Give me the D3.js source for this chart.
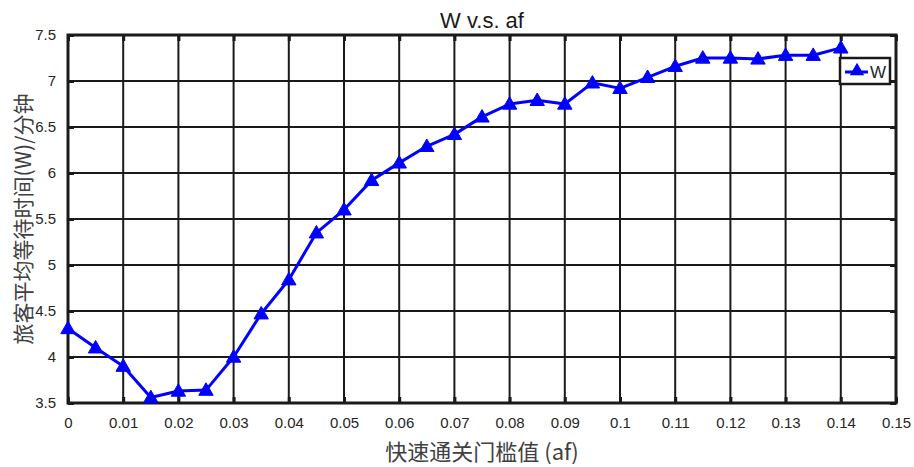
<!DOCTYPE html>
<html>
<head>
<meta charset="utf-8">
<script src="https://cdn.jsdelivr.net/npm/d3@7"></script>
<style>
  body { margin: 0; background: #fff; }
  svg { display: block; font-family: "Liberation Sans", Arial, sans-serif; }
</style>
</head>
<body>
<div id="chart"></div>
<script>
// data
var afValues = [0, 0.005, 0.01, 0.015, 0.02, 0.025, 0.03, 0.035, 0.04, 0.045, 0.05, 0.055, 0.06, 0.065, 0.07,
                0.075, 0.08, 0.085, 0.09, 0.095, 0.1, 0.105, 0.11, 0.115, 0.12, 0.125, 0.13, 0.135, 0.14];
var wValues = [4.31, 4.10, 3.90, 3.56, 3.63, 3.64, 4.00, 4.47, 4.84, 5.35, 5.60, 5.92, 6.11, 6.29, 6.42,
               6.61, 6.75, 6.79, 6.75, 6.98, 6.92, 7.04, 7.16, 7.25, 7.25, 7.24, 7.28, 7.28, 7.36];
var xTicks = [0, 0.01, 0.02, 0.03, 0.04, 0.05, 0.06, 0.07, 0.08, 0.09, 0.1, 0.11, 0.12, 0.13, 0.14, 0.15];
var yTicks = [3.5, 4, 4.5, 5, 5.5, 6, 6.5, 7, 7.5];
var titleText = "W v.s. af";
var xLabel = "快速通关门槛值 (af)";
var yLabel = "旅客平均等待时间(W)/分钟";
var seriesName = "W";

var W = 914, H = 467;
var margin = {top: 35, right: 18, bottom: 64, left: 68};
var width = W - margin.left - margin.right,
    height = H - margin.top - margin.bottom;

var svg = d3.select("#chart").append("svg")
    .attr("width", W)
    .attr("height", H);

var g = svg.append("g")
    .attr("transform", "translate(" + margin.left + "," + margin.top + ")");

var x = d3.scaleLinear().domain([0, 0.15]).range([0, width]);
var y = d3.scaleLinear().domain([3.5, 7.5]).range([height, 0]);

var fmt = function(d) { return String(+d.toFixed(3)); };

// grid lines
g.append("g")
    .selectAll("line.vg")
    .data(xTicks)
    .enter().append("line")
    .attr("x1", function(d) { return x(d); })
    .attr("x2", function(d) { return x(d); })
    .attr("y1", 0).attr("y2", height)
    .attr("stroke", "#1a1a1a").attr("stroke-width", 2);
g.append("g")
    .selectAll("line.hg")
    .data(yTicks)
    .enter().append("line")
    .attr("x1", 0).attr("x2", width)
    .attr("y1", function(d) { return y(d); })
    .attr("y2", function(d) { return y(d); })
    .attr("stroke", "#1a1a1a").attr("stroke-width", 2);

// axes with inward ticks
g.append("g")
    .attr("transform", "translate(0," + height + ")")
    .call(d3.axisBottom(x).tickValues(xTicks).tickFormat(fmt).tickSize(-6).tickPadding(14));
g.append("g")
    .call(d3.axisLeft(y).tickValues(yTicks).tickFormat(fmt).tickSize(-6).tickPadding(12));
g.append("g")
    .call(d3.axisTop(x).tickValues(xTicks).tickFormat("").tickSize(-6));
g.append("g")
    .attr("transform", "translate(" + width + ",0)")
    .call(d3.axisRight(y).tickValues(yTicks).tickFormat("").tickSize(-6));

g.selectAll(".domain").remove();
g.selectAll(".tick line").attr("stroke", "#1a1a1a").attr("stroke-width", 3);
g.selectAll(".tick text").attr("fill", "#262626").style("font-size", "15px");

// frame
g.append("rect")
    .attr("width", width).attr("height", height)
    .attr("fill", "none")
    .attr("stroke", "#1a1a1a").attr("stroke-width", 3);

// series
var pts = afValues.map(function(d, i) { return [d, wValues[i]]; });
g.append("path")
    .datum(pts)
    .attr("fill", "none")
    .attr("stroke", "#0000ff")
    .attr("stroke-width", 3)
    .attr("stroke-linejoin", "round")
    .attr("d", d3.line()
        .x(function(d) { return x(d[0]); })
        .y(function(d) { return y(d[1]); }));

var tri = d3.symbol().type(d3.symbolTriangle).size(90);
g.append("g")
    .selectAll("path")
    .data(pts)
    .enter().append("path")
    .attr("d", tri)
    .attr("transform", function(d) { return "translate(" + x(d[0]) + "," + (y(d[1]) + 1) + ")"; })
    .attr("fill", "#0000ff")
    .attr("stroke", "#0000ff")
    .attr("stroke-width", 1);

// legend
var lg = svg.append("g").attr("transform", "translate(840,58)");
lg.append("rect")
    .attr("width", 50).attr("height", 26)
    .attr("fill", "#fff")
    .attr("stroke", "#1a1a1a").attr("stroke-width", 2.5);
lg.append("line")
    .attr("x1", 5).attr("x2", 28).attr("y1", 14).attr("y2", 14)
    .attr("stroke", "#0000ff").attr("stroke-width", 3);
lg.append("path")
    .attr("d", tri)
    .attr("transform", "translate(17,13)")
    .attr("fill", "#0000ff");
lg.append("text")
    .attr("x", 30).attr("y", 20)
    .attr("fill", "#262626")
    .style("font-size", "17px")
    .text(seriesName);

// title and labels
svg.append("text")
    .attr("x", margin.left + width / 2).attr("y", 28)
    .attr("text-anchor", "middle")
    .attr("fill", "#1a1a1a")
    .style("font-size", "22px")
    .text(titleText);

svg.append("text")
    .attr("x", margin.left + width / 2).attr("y", 460)
    .attr("text-anchor", "middle")
    .attr("fill", "#404040")
    .style("font-family", "'Noto Sans CJK SC', 'Liberation Sans', sans-serif")
    .style("font-size", "22px")
    .text(xLabel);

svg.append("text")
    .attr("transform", "translate(31," + (margin.top + height / 2) + ") rotate(-90)")
    .attr("text-anchor", "middle")
    .attr("fill", "#404040")
    .style("font-family", "'Noto Sans CJK SC', 'Liberation Sans', sans-serif")
    .style("font-size", "21px")
    .text(yLabel);
</script>
</body>
</html>
